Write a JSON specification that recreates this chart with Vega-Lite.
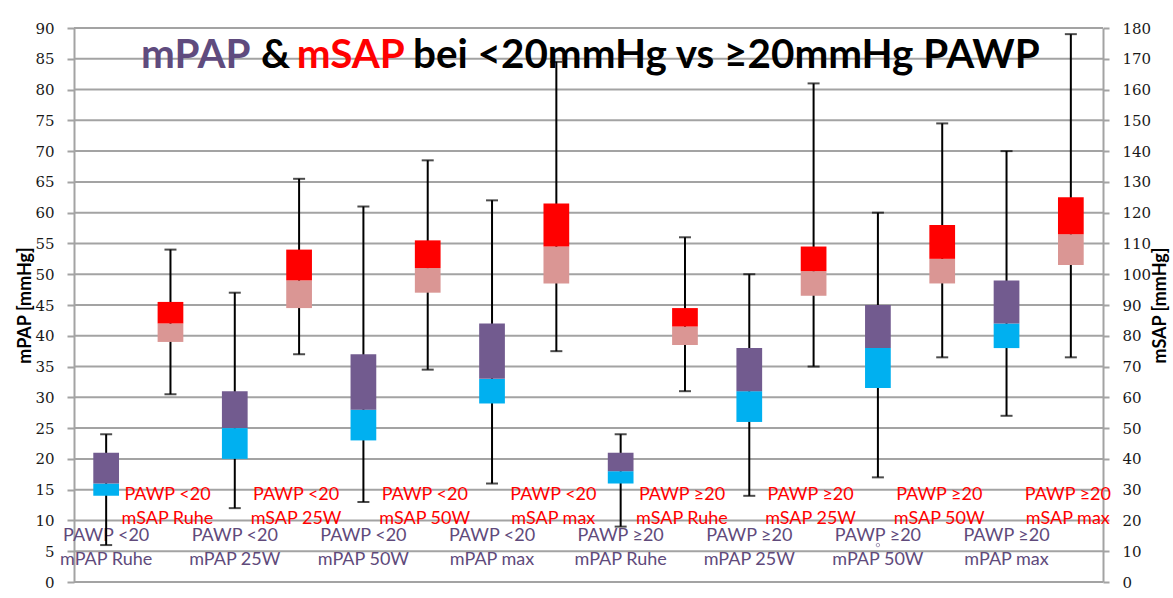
{
  "$schema": "https://vega.github.io/schema/vega-lite/v6.json",
  "width": 1029,
  "height": 554,
  "autosize": {"type": "none"},
  "padding": {"left": 74, "top": 28, "right": 70, "bottom": 16},
  "background": "white",
  "config": {
    "view": {"stroke": null},
    "font": "Lato",
    "axisLeft": {
      "tickCount": 19,
      "labelOverlap": false,
      "grid": false,
      "domainColor": "#A3A3A3",
      "domainWidth": 2,
      "tickColor": "#A3A3A3",
      "tickWidth": 2,
      "tickSize": 7,
      "labelFont": "DejaVu Serif",
      "labelFontSize": 15,
      "labelColor": "#1a1a1a",
      "labelPadding": 13,
      "titleFont": "Lato",
      "titleFontSize": 18,
      "titleFontWeight": "bold",
      "titleColor": "#000000",
      "titlePadding": 0
    },
    "axisRight": {
      "tickCount": 19,
      "labelOverlap": false,
      "grid": false,
      "domainColor": "#A3A3A3",
      "domainWidth": 2,
      "tickColor": "#A3A3A3",
      "tickWidth": 2,
      "tickSize": 6,
      "labelFont": "DejaVu Serif",
      "labelFontSize": 15,
      "labelColor": "#1a1a1a",
      "labelPadding": 13,
      "titleFont": "Lato",
      "titleFontSize": 18,
      "titleFontWeight": "bold",
      "titleColor": "#000000",
      "titleAngle": 270,
      "titleBaseline": "top",
      "titlePadding": 1
    }
  },
  "datasets": {
    "gridlines": [
      {"v": 0}, {"v": 5}, {"v": 10}, {"v": 15}, {"v": 20}, {"v": 25}, {"v": 30}, {"v": 35}, {"v": 40}, {"v": 45},
      {"v": 50}, {"v": 55}, {"v": 60}, {"v": 65}, {"v": 70}, {"v": 75}, {"v": 80}, {"v": 85}, {"v": 90}
    ]
  },
  "data": {
    "values": [
      {"slot": "PAWP <20 mPAP Ruhe", "measure": "mPAP", "line1": "PAWP <20", "line2": "mPAP Ruhe", "low": 6, "q1": 14, "median": 16, "q3": 21, "high": 24},
      {"slot": "PAWP <20 mSAP Ruhe", "measure": "mSAP", "line1": "PAWP <20", "line2": "mSAP Ruhe", "low": 61, "q1": 78, "median": 84, "q3": 91, "high": 108},
      {"slot": "PAWP <20 mPAP 25W", "measure": "mPAP", "line1": "PAWP <20", "line2": "mPAP 25W", "low": 12, "q1": 20, "median": 25, "q3": 31, "high": 47},
      {"slot": "PAWP <20 mSAP 25W", "measure": "mSAP", "line1": "PAWP <20", "line2": "mSAP 25W", "low": 74, "q1": 89, "median": 98, "q3": 108, "high": 131},
      {"slot": "PAWP <20 mPAP 50W", "measure": "mPAP", "line1": "PAWP <20", "line2": "mPAP 50W", "low": 13, "q1": 23, "median": 28, "q3": 37, "high": 61},
      {"slot": "PAWP <20 mSAP 50W", "measure": "mSAP", "line1": "PAWP <20", "line2": "mSAP 50W", "low": 69, "q1": 94, "median": 102, "q3": 111, "high": 137},
      {"slot": "PAWP <20 mPAP max", "measure": "mPAP", "line1": "PAWP <20", "line2": "mPAP max", "low": 16, "q1": 29, "median": 33, "q3": 42, "high": 62},
      {"slot": "PAWP <20 mSAP max", "measure": "mSAP", "line1": "PAWP <20", "line2": "mSAP max", "low": 75, "q1": 97, "median": 109, "q3": 123, "high": 169},
      {"slot": "PAWP ≥20 mPAP Ruhe", "measure": "mPAP", "line1": "PAWP ≥20", "line2": "mPAP Ruhe", "low": 9, "q1": 16, "median": 18, "q3": 21, "high": 24},
      {"slot": "PAWP ≥20 mSAP Ruhe", "measure": "mSAP", "line1": "PAWP ≥20", "line2": "mSAP Ruhe", "low": 62, "q1": 77, "median": 83, "q3": 89, "high": 112},
      {"slot": "PAWP ≥20 mPAP 25W", "measure": "mPAP", "line1": "PAWP ≥20", "line2": "mPAP 25W", "low": 14, "q1": 26, "median": 31, "q3": 38, "high": 50},
      {"slot": "PAWP ≥20 mSAP 25W", "measure": "mSAP", "line1": "PAWP ≥20", "line2": "mSAP 25W", "low": 70, "q1": 93, "median": 101, "q3": 109, "high": 162},
      {"slot": "PAWP ≥20 mPAP 50W", "measure": "mPAP", "line1": "PAWP ≥20", "line2": "mPAP 50W", "low": 17, "q1": 31.5, "median": 38, "q3": 45, "high": 60},
      {"slot": "PAWP ≥20 mSAP 50W", "measure": "mSAP", "line1": "PAWP ≥20", "line2": "mSAP 50W", "low": 73, "q1": 97, "median": 105, "q3": 116, "high": 149},
      {"slot": "PAWP ≥20 mPAP max", "measure": "mPAP", "line1": "PAWP ≥20", "line2": "mPAP max", "low": 27, "q1": 38, "median": 42, "q3": 49, "high": 70},
      {"slot": "PAWP ≥20 mSAP max", "measure": "mSAP", "line1": "PAWP ≥20", "line2": "mSAP max", "low": 73, "q1": 103, "median": 113, "q3": 125, "high": 178}
    ]
  },
  "encoding": {
    "x": {
      "field": "slot",
      "type": "nominal",
      "scale": {
        "domain": [
          "PAWP <20 mPAP Ruhe", "PAWP <20 mSAP Ruhe", "PAWP <20 mPAP 25W", "PAWP <20 mSAP 25W",
          "PAWP <20 mPAP 50W", "PAWP <20 mSAP 50W", "PAWP <20 mPAP max", "PAWP <20 mSAP max",
          "PAWP ≥20 mPAP Ruhe", "PAWP ≥20 mSAP Ruhe", "PAWP ≥20 mPAP 25W", "PAWP ≥20 mSAP 25W",
          "PAWP ≥20 mPAP 50W", "PAWP ≥20 mSAP 50W", "PAWP ≥20 mPAP max", "PAWP ≥20 mSAP max"
        ],
        "paddingInner": 0,
        "paddingOuter": 0
      },
      "axis": null
    }
  },
  "layer": [
    {
      "layer": [
        {
          "data": {"name": "gridlines"},
          "mark": {"type": "rule", "stroke": "#A3A3A3", "strokeWidth": 2},
          "encoding": {
            "x": {"value": 0},
            "x2": {"value": "width"},
            "y": {
              "field": "v",
              "type": "quantitative",
              "scale": {"domain": [0, 90], "nice": false},
              "axis": {
                "orient": "left",
                "values": [0, 5, 10, 15, 20, 25, 30, 35, 40, 45, 50, 55, 60, 65, 70, 75, 80, 85, 90],
                "title": "mPAP [mmHg]"
              }
            }
          }
        },
        {
          "transform": [{"filter": "datum.measure === 'mPAP'"}],
          "mark": {"type": "text", "fontSize": 18, "font": "Lato", "color": "#604A7B", "baseline": "middle"},
          "encoding": {"y": {"datum": 7.47}, "text": {"field": "line1"}}
        },
        {
          "transform": [{"filter": "datum.measure === 'mPAP'"}],
          "mark": {"type": "text", "fontSize": 18, "font": "Lato", "color": "#604A7B", "baseline": "middle"},
          "encoding": {"y": {"datum": 3.57}, "text": {"field": "line2"}}
        },
        {
          "transform": [{"filter": "datum.measure === 'mSAP'"}],
          "mark": {"type": "text", "fontSize": 18, "font": "Lato", "color": "#FF0000", "baseline": "middle", "dx": -3},
          "encoding": {"y": {"datum": 14.13}, "text": {"field": "line1"}}
        },
        {
          "transform": [{"filter": "datum.measure === 'mSAP'"}],
          "mark": {"type": "text", "fontSize": 18, "font": "Lato", "color": "#FF0000", "baseline": "middle", "dx": -3},
          "encoding": {"y": {"datum": 10.28}, "text": {"field": "line2"}}
        },
        {
          "transform": [{"filter": "datum.measure === 'mPAP'"}],
          "mark": {"type": "rule", "color": "black", "strokeWidth": 2},
          "encoding": {"y": {"field": "low", "type": "quantitative"}, "y2": {"field": "high"}}
        },
        {
          "transform": [{"filter": "datum.measure === 'mPAP'"}],
          "mark": {"type": "tick", "orient": "horizontal", "size": 12, "thickness": 2, "color": "black"},
          "encoding": {"y": {"field": "low", "type": "quantitative"}}
        },
        {
          "transform": [{"filter": "datum.measure === 'mPAP'"}],
          "mark": {"type": "tick", "orient": "horizontal", "size": 12, "thickness": 2, "color": "black"},
          "encoding": {"y": {"field": "high", "type": "quantitative"}}
        },
        {
          "transform": [{"filter": "datum.measure === 'mPAP'"}],
          "mark": {"type": "bar", "width": {"band": 0.4}, "color": "#00B0F0"},
          "encoding": {"y": {"field": "q1", "type": "quantitative"}, "y2": {"field": "median"}}
        },
        {
          "transform": [{"filter": "datum.measure === 'mPAP'"}],
          "mark": {"type": "bar", "width": {"band": 0.4}, "color": "#725B8F"},
          "encoding": {"y": {"field": "median", "type": "quantitative"}, "y2": {"field": "q3"}}
        },
        {
          "data": {"values": [{"slot": "PAWP ≥20 mPAP 50W", "value": 6}]},
          "mark": {"type": "point", "shape": "circle", "size": 12, "filled": false, "stroke": "#7F6F99", "strokeWidth": 1},
          "encoding": {"y": {"field": "value", "type": "quantitative"}}
        },
        {
          "data": {"values": [{}]},
          "mark": {"type": "text", "text": "mPAP", "font": "Lato", "fontSize": 40.4, "fontWeight": "bold", "color": "#5F4B7E", "align": "left", "baseline": "alphabetic", "dx": -447.4},
          "encoding": {"x": {"datum": "PAWP ≥20 mPAP Ruhe", "bandPosition": 0}, "y": {"datum": 83.5}}
        },
        {
          "data": {"values": [{}]},
          "mark": {"type": "text", "text": "&", "font": "Lato", "fontSize": 40.4, "fontWeight": "bold", "color": "#000000", "align": "left", "baseline": "alphabetic", "dx": -327.5},
          "encoding": {"x": {"datum": "PAWP ≥20 mPAP Ruhe", "bandPosition": 0}, "y": {"datum": 83.5}}
        },
        {
          "data": {"values": [{}]},
          "mark": {"type": "text", "text": "mSAP", "font": "Lato", "fontSize": 40.4, "fontWeight": "bold", "color": "#FF0000", "align": "left", "baseline": "alphabetic", "dx": -291.8},
          "encoding": {"x": {"datum": "PAWP ≥20 mPAP Ruhe", "bandPosition": 0}, "y": {"datum": 83.5}}
        },
        {
          "data": {"values": [{}]},
          "mark": {"type": "text", "text": "bei <20mmHg vs ≥20mmHg PAWP", "font": "Lato", "fontSize": 40.4, "fontWeight": "bold", "color": "#000000", "align": "left", "baseline": "alphabetic", "dx": -175.5},
          "encoding": {"x": {"datum": "PAWP ≥20 mPAP Ruhe", "bandPosition": 0}, "y": {"datum": 83.5}}
        }
      ]
    },
    {
      "transform": [{"filter": "datum.measure === 'mSAP'"}],
      "layer": [
        {
          "mark": {"type": "rule", "color": "black", "strokeWidth": 2},
          "encoding": {
            "y": {
              "field": "low",
              "type": "quantitative",
              "scale": {"domain": [0, 180], "nice": false},
              "axis": {
                "orient": "right",
                "values": [0, 10, 20, 30, 40, 50, 60, 70, 80, 90, 100, 110, 120, 130, 140, 150, 160, 170, 180],
                "title": "mSAP [mmHg]"
              }
            },
            "y2": {"field": "high"}
          }
        },
        {
          "mark": {"type": "tick", "orient": "horizontal", "size": 12, "thickness": 2, "color": "black"},
          "encoding": {"y": {"field": "low", "type": "quantitative"}}
        },
        {
          "mark": {"type": "tick", "orient": "horizontal", "size": 12, "thickness": 2, "color": "black"},
          "encoding": {"y": {"field": "high", "type": "quantitative"}}
        },
        {
          "mark": {"type": "bar", "width": {"band": 0.4}, "color": "#DA9694"},
          "encoding": {"y": {"field": "q1", "type": "quantitative"}, "y2": {"field": "median"}}
        },
        {
          "mark": {"type": "bar", "width": {"band": 0.4}, "color": "#FF0000"},
          "encoding": {"y": {"field": "median", "type": "quantitative"}, "y2": {"field": "q3"}}
        }
      ]
    }
  ],
  "resolve": {"scale": {"y": "independent"}}
}
